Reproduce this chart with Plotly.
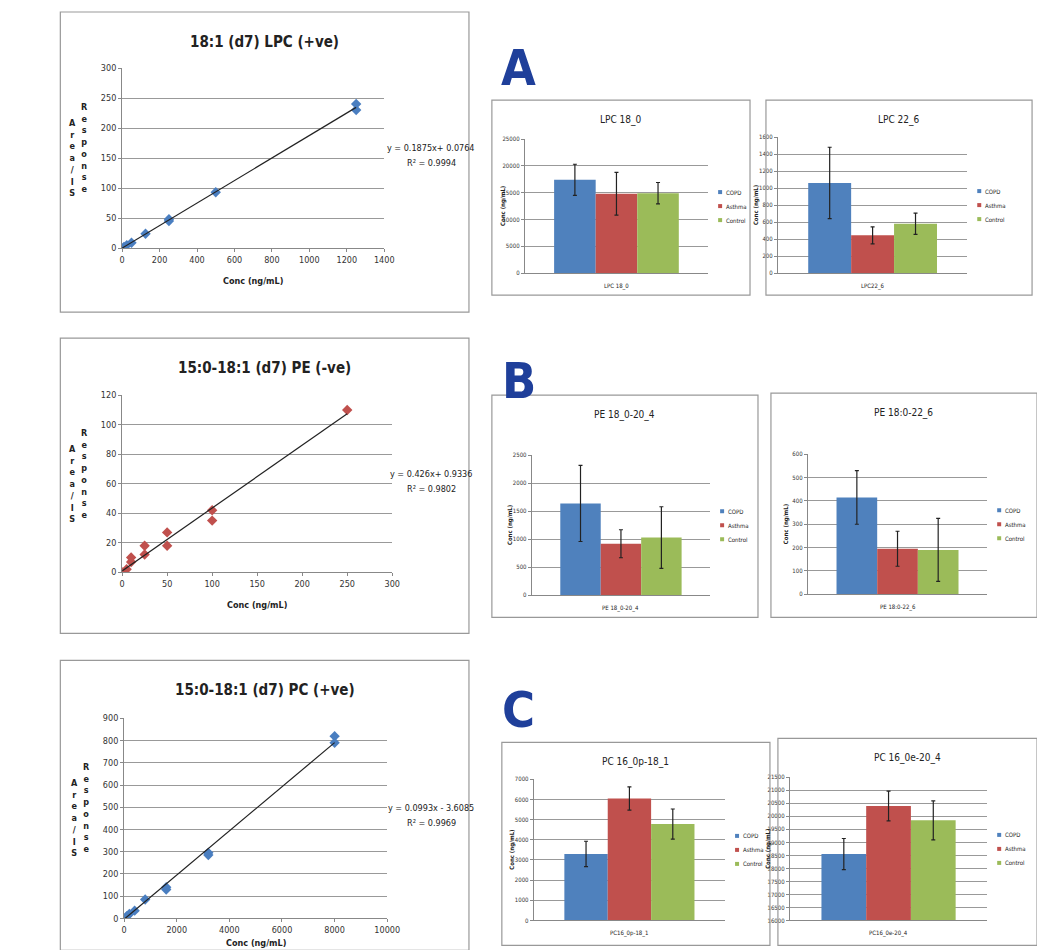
import plotly.graph_objects as go

W, H = 1045, 950
FONT = "Liberation Sans Narrow, DejaVu Sans Condensed, sans-serif"

# ---- calibration data ----
lpc_x = [0, 10, 25, 50, 125, 250, 250, 500, 1250, 1250]
lpc_y = [0, 2, 5, 9, 24, 45, 48, 93, 230, 240]
pe_x = [0, 5, 10, 10, 25, 25, 50, 50, 100, 100, 250]
pe_y = [0, 2, 7, 10, 12, 18, 18, 27, 35, 42, 110]
pc_x = [0, 100, 200, 400, 800, 1600, 1600, 3200, 3200, 8000, 8000]
pc_y = [0, 10, 20, 35, 85, 130, 140, 285, 295, 790, 820]
lpc_fit = (0.1875, 0.0764)
pe_fit = (0.426, 0.9336)
pc_fit = (0.0993, -3.6085)

# ---- bar data ----
groups = ["COPD", "Asthma", "Control"]
colors = ["#4F81BD", "#C0504D", "#9BBB59"]
lpc180 = [17400, 14800, 14900]; lpc180_e = [2900, 4000, 2000]
lpc226 = [1060, 445, 580]; lpc226_e = [420, 100, 125]
pe204 = [1640, 920, 1030]; pe204_e = [680, 250, 550]
pe226 = [415, 195, 190]; pe226_e = [115, 75, 135]
pc181 = [3300, 6050, 4780]; pc181_e = [630, 580, 750]
pc204 = [18550, 20400, 19850]; pc204_e = [600, 570, 750]

fig = go.Figure()
shapes, annos = [], []

def px(x): return ((x - 10.5) / 0.988) / W
def py(y): return 1 - ((y - 13) / 0.989) / H

def box(x0, y0, x1, y1):
    shapes.append(dict(type="rect", xref="paper", yref="paper", x0=px(x0), x1=px(x1),
                       y0=py(y1), y1=py(y0), line=dict(color="#999", width=1.2)))

def text(x, y, t, size=10, color="#222", bold=False, xanchor="center", **kw):
    annos.append(dict(xref="paper", yref="paper", x=px(x), y=py(y), text=("<b>%s</b>" % t) if bold else t,
                      showarrow=False, xanchor=xanchor, yanchor="middle",
                      font=dict(size=size, color=color, family=FONT), **kw))

n = [0]
def axes(x0, x1, y0, y1, xr, yr, xdt, ydt, showx=True, tick=9):
    n[0] += 1
    k = "" if n[0] == 1 else str(n[0])
    fig.layout["xaxis" + k] = dict(domain=[px(x0), px(x1)], range=xr, anchor="y" + k, dtick=xdt,
                                   showticklabels=showx, showgrid=False, zeroline=False, showline=True,
                                   linecolor="#888", tickfont=dict(size=tick, family=FONT, color="#333"),
                                   ticks="outside" if showx else "", ticklen=3, tickcolor="#888",
                                   tickformat="d")
    fig.layout["yaxis" + k] = dict(domain=[py(y0), py(y1)], range=yr, anchor="x" + k, dtick=ydt,
                                   showgrid=True, gridcolor="#999", gridwidth=1, zeroline=False, showline=True,
                                   linecolor="#888", tickfont=dict(size=tick, family=FONT, color="#333"),
                                   ticks="outside", ticklen=3, tickcolor="#888", tickformat="d")
    return "x" + k, "y" + k

def scatter_panel(bx, pa, xs, ys, fit, col, xr, yr, xdt, ydt, title, eq, xlab, xl_off=33):
    box(*bx)
    xa, ya = axes(*pa, xr, yr, xdt, ydt, tick=9)
    fig.add_trace(go.Scatter(x=xs, y=ys, mode="markers", xaxis=xa, yaxis=ya,
                             marker=dict(symbol="diamond", size=8, color=col), showlegend=False))
    xm = max(xs)
    fig.add_trace(go.Scatter(x=[0, xm], y=[fit[1], fit[0] * xm + fit[1]], mode="lines", xaxis=xa, yaxis=ya,
                             line=dict(color="#222", width=1.2), showlegend=False))
    text((bx[0] + bx[2]) / 2, bx[1] + 30, title, size=15, bold=True)
    ymid = (pa[2] + pa[3]) / 2
    text(pa[0] - 50, ymid, "<br>".join("Area/IS"), size=9, bold=True)
    text(pa[0] - 38, ymid - 10, "<br>".join("Response"), size=9, bold=True)
    text((pa[0] + pa[1]) / 2, pa[2] + xl_off, xlab, size=9, bold=True)
    text(bx[2] - 38, ymid - 10, eq[0], size=9)
    text(bx[2] - 38, ymid + 5, eq[1], size=9)

scatter_panel((60, 12, 470, 312), (122, 385, 248, 68), lpc_x, lpc_y, lpc_fit, "#4A7EC0",
              [0, 1400], [0, 300], 200, 50, "18:1 (d7) LPC (+ve)",
              ("y = 0.1875x+ 0.0764", "R² = 0.9994"), "Conc (ng/mL)")
scatter_panel((60, 338, 470, 633), (122, 393, 572, 395), pe_x, pe_y, pe_fit, "#C0504D",
              [0, 300], [0, 120], 50, 20, "15:0-18:1 (d7) PE (-ve)",
              ("y = 0.426x+ 0.9336", "R² = 0.9802"), "Conc (ng/mL)")
scatter_panel((60, 660, 470, 950), (124, 388, 918, 718), pc_x, pc_y, pc_fit, "#4A7EC0",
              [0, 10000], [0, 900], 2000, 100, "15:0-18:1 (d7) PC (+ve)",
              ("y = 0.0993x - 3.6085", "R² = 0.9969"), "Conc (ng/mL)", xl_off=25)

def bar_panel(bx, pa, vals, errs, yr, ydt, title, cat):
    box(*bx)
    xa, ya = axes(*pa, [-0.5, 0.5], yr, None, ydt, showx=False, tick=6)
    for i in range(3):
        fig.add_trace(go.Bar(x=[cat], y=[vals[i] - yr[0]], base=yr[0], xaxis=xa, yaxis=ya,
                             marker=dict(color=colors[i], line=dict(width=0)),
                             error_y=dict(type="data", array=[errs[i]], color="#222", thickness=1.2, width=2),
                             offsetgroup=str(i), showlegend=False))
    text((bx[0] + bx[2]) / 2, bx[1] + 20, title, size=10)
    text((pa[0] + pa[1]) / 2, pa[2] + 13, cat, size=6)
    text(pa[0] - 22, (pa[2] + pa[3]) / 2, "Conc (ng/mL)", size=6, bold=True, textangle=-90)
    lx = pa[1] + 10
    ym = (pa[2] + pa[3]) / 2
    for i, g in enumerate(groups):
        yy = ym - 14 + i * 14
        shapes.append(dict(type="rect", xref="paper", yref="paper", x0=px(lx), x1=px(lx + 4),
                           y0=py(yy + 2), y1=py(yy - 2), fillcolor=colors[i], line=dict(width=0)))
        text(lx + 6, yy, g, size=6, xanchor="left")

bar_panel((493, 100, 752, 295), (526, 710, 273, 139), lpc180, lpc180_e, [0, 25000], 5000, "LPC 18_0", "LPC 18_0")
bar_panel((768, 100, 1035, 295), (780, 970, 273, 137), lpc226, lpc226_e, [0, 1600], 200, "LPC 22_6", "LPC22_6")
bar_panel((493, 395, 760, 617), (533, 712, 595, 455), pe204, pe204_e, [0, 2500], 500, "PE 18_0-20_4", "PE 18_0-20_4")
bar_panel((773, 393, 1040, 617), (810, 990, 594, 454), pe226, pe226_e, [0, 600], 100, "PE 18:0-22_6", "PE 18:0-22_6")
bar_panel((503, 742, 772, 945), (535, 727, 920, 779), pc181, pc181_e, [0, 7000], 1000, "PC 16_0p-18_1", "PC16_0p-18_1")
bar_panel((780, 738, 1040, 945), (792, 990, 920, 777), pc204, pc204_e, [16000, 21500], 500, "PC 16_0e-20_4", "PC16_0e-20_4")

for t, x, y in [("A", 520, 68), ("B", 520, 381), ("C", 520, 710)]:
    text(x, y, t, size=50, color="#1F3F9A", bold=True)

fig.update_layout(width=W, height=H, margin=dict(l=0, r=0, t=0, b=0), paper_bgcolor="white",
                  plot_bgcolor="white", shapes=shapes, annotations=annos, barmode="group",
                  bargap=0.32, bargroupgap=0.0, font=dict(family=FONT))
fig.write_html("out.html")
